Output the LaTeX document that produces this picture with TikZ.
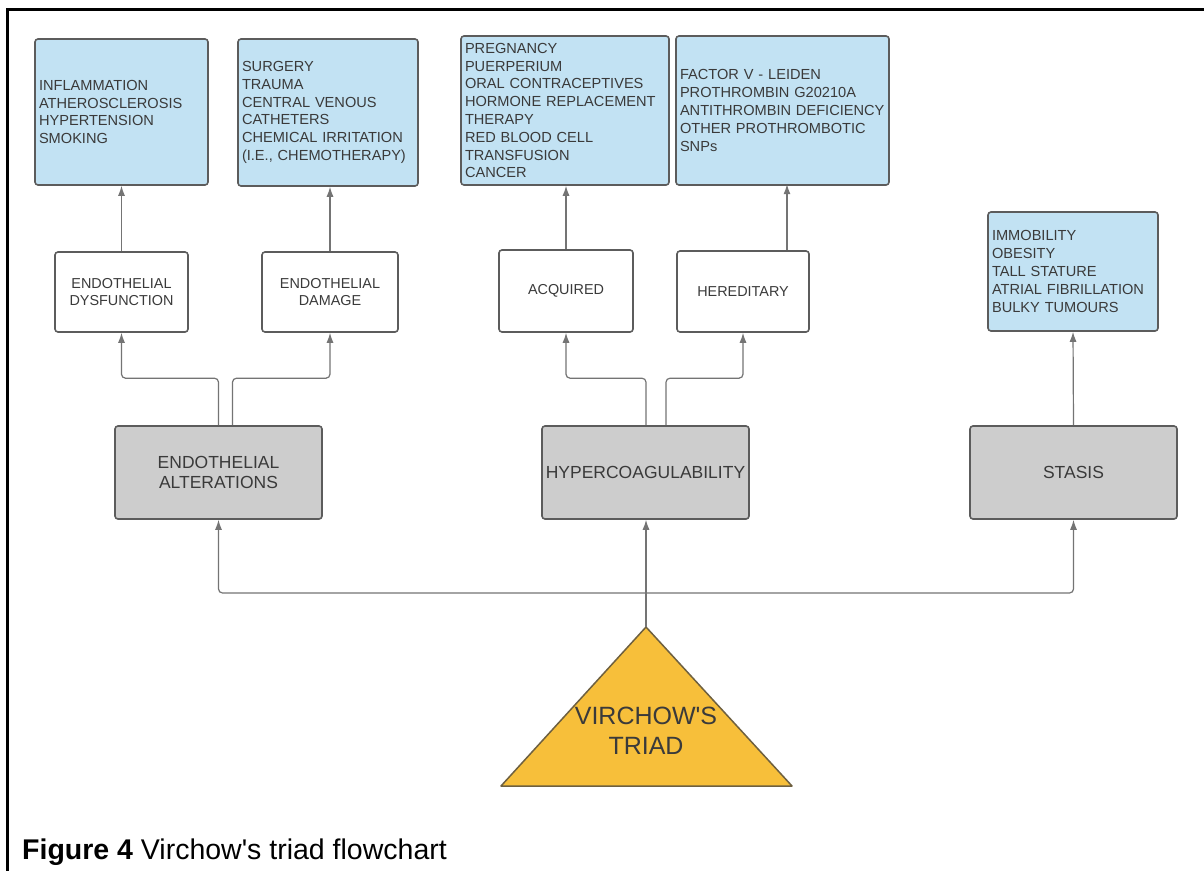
\documentclass[tikz,border=0pt]{standalone}
\usepackage{fontspec}
\setmainfont{Liberation Sans}[Ligatures=TeXOff]
\usetikzlibrary{arrows.meta}
\definecolor{bluefill}{HTML}{C2E2F3}
\definecolor{grayfill}{HTML}{CDCDCD}
\definecolor{edgecol}{HTML}{5C5C5C}
\definecolor{txtcol}{HTML}{3A3A3A}
\definecolor{conncol}{HTML}{747474}
\definecolor{trifill}{HTML}{F7BF3A}
\definecolor{triedge}{HTML}{6E6040}
\begin{document}
\begin{tikzpicture}[x=1pt,y=-1pt,
  box/.style={draw=edgecol, line width=1.6pt, rounded corners=3pt, inner sep=0pt, text=txtcol},
  bluebox/.style={box, fill=bluefill, align=left, font=\fontsize{14.6}{17.8}\selectfont},
  whitebox/.style={box, fill=white, align=center, font=\fontsize{14.4}{17.5}\selectfont},
  graybox/.style={box, fill=grayfill, align=center, font=\fontsize{17.5}{20.5}\selectfont},
  conn/.style={draw=conncol, line width=1.2pt, rounded corners=4pt, -{Latex[length=10pt,width=7pt]}}]
\useasboundingbox (0,0) rectangle (1204,870);
\fill[white] (0,0) rectangle (1204,870);
\draw[line width=3pt] (7,872) -- (7,9) -- (1204,9);

% blue boxes
\node[bluebox, minimum width=173pt, minimum height=146pt, text width=165pt] (B1) at (121.5,112)
  {INFLAMMATION\\ATHEROSCLEROSIS\\HYPERTENSION\\SMOKING};
\node[bluebox, minimum width=180pt, minimum height=147pt, text width=172pt] (B2) at (328,112.5)
  {SURGERY\\TRAUMA\\CENTRAL VENOUS\\CATHETERS\\CHEMICAL IRRITATION\\(I.E., CHEMOTHERAPY)};
\node[bluebox, minimum width=208pt, minimum height=149pt, text width=200pt] (B3) at (565,110.5)
  {PREGNANCY\\PUERPERIUM\\ORAL CONTRACEPTIVES\\HORMONE REPLACEMENT\\THERAPY\\RED BLOOD CELL\\TRANSFUSION\\CANCER};
\node[bluebox, minimum width=213pt, minimum height=149pt, text width=205pt] (B4) at (782.5,110.5)
  {FACTOR V - LEIDEN\\PROTHROMBIN G20210A\\ANTITHROMBIN DEFICIENCY\\OTHER PROTHROMBOTIC\\SNPs};
\node[bluebox, minimum width=170pt, minimum height=119pt, text width=162pt] (B5) at (1073,271.5)
  {IMMOBILITY\\OBESITY\\TALL STATURE\\ATRIAL FIBRILLATION\\BULKY TUMOURS};

% white boxes
\node[whitebox, minimum width=133pt, minimum height=80pt] (W1) at (121.5,292) {ENDOTHELIAL\\DYSFUNCTION};
\node[whitebox, minimum width=136pt, minimum height=80pt] (W2) at (330,292) {ENDOTHELIAL\\DAMAGE};
\node[whitebox, minimum width=134pt, minimum height=82pt] (W3) at (566,291) {ACQUIRED};
\node[whitebox, minimum width=132pt, minimum height=81pt] (W4) at (743,291.5) {HEREDITARY};

% gray boxes
\node[graybox, minimum width=207pt, minimum height=93pt] (G1) at (218.5,472.5) {ENDOTHELIAL\\ALTERATIONS};
\node[graybox, minimum width=207pt, minimum height=93pt] (G2) at (645.5,472.5) {HYPERCOAGULABILITY};
\node[graybox, minimum width=207pt, minimum height=93pt] (G3) at (1073.5,472.5) {STASIS};

% triangle
\coordinate (apex) at (646,627);
\filldraw[fill=trifill, draw=triedge, line width=1.5pt, line join=round]
  (apex) -- (792,786) -- (501,786) -- cycle;
\node[align=center, text=txtcol, font=\fontsize{25}{29.5}\selectfont, inner sep=0pt] (T) at (646,731)
  {VIRCHOW'S\\TRIAD};

% connectors from triad
\coordinate (hub) at (646,593);
\draw[conn] (apex) -- (G2.south -| apex);
\draw[conn] (hub) -| (G1.south);
\draw[conn] (hub) -| (G3.south);

% endothelial alterations branches
\draw[conn] (G1.north) -- ++(0,-47) -| (W1.south);
\draw[conn] ([xshift=14pt]G1.north) -- ++(0,-47) -| (W2.south);

% hypercoagulability branches
\draw[conn] ([xshift=0.5pt]G2.north) -- ++(0,-47) -| (W3.south);
\draw[conn] ([xshift=20.5pt]G2.north) -- ++(0,-47) -| (W4.south);

% to blue boxes
\draw[conn] (W1.north) -- (B1.south);
\draw[conn] (W2.north) -- (B2.south -| W2.north);
\draw[conn] (W3.north) -- (B3.south -| W3.north);
\draw[conn] ([xshift=44pt]W4.north) -- ++(0,-66);
\draw[conn] (G3.north) -- (B5.south);

% caption
\node[anchor=base west, inner sep=0pt, font=\fontsize{28.5}{33}\selectfont] (cap) at (22,859)
  {\textbf{Figure 4} Virchow's triad flowchart};
\end{tikzpicture}
\end{document}
